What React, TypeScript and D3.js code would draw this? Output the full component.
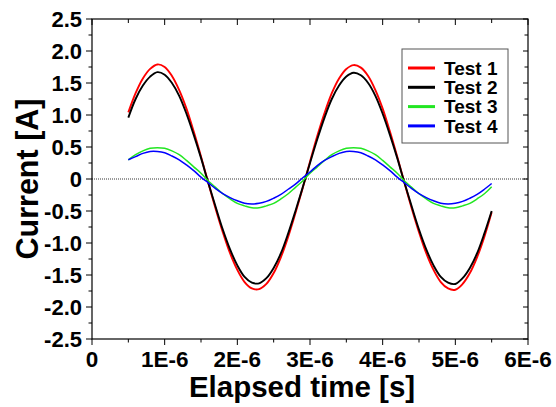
import React from 'react';
import * as d3 from 'd3';

// elapsed time in microseconds (axis shows seconds as 1E-6 ...)
const times = [
  0.5, 0.6, 0.7, 0.8, 0.9, 1.0, 1.1, 1.2, 1.3, 1.4, 1.5, 1.6, 1.7, 1.8, 1.9, 2.0, 2.1,
  2.2, 2.3, 2.4, 2.5, 2.6, 2.7, 2.8, 2.9, 3.0, 3.1, 3.2, 3.3, 3.4, 3.5, 3.6, 3.7, 3.8,
  3.9, 4.0, 4.1, 4.2, 4.3, 4.4, 4.5, 4.6, 4.7, 4.8, 4.9, 5.0, 5.1, 5.2, 5.3, 5.4, 5.5,
];

const test1 = [
  1.04, 1.34, 1.57, 1.72, 1.79, 1.75, 1.61, 1.39, 1.10, 0.74, 0.35, -0.06, -0.46, -0.83,
  -1.16, -1.42, -1.61, -1.71, -1.72, -1.64, -1.47, -1.22, -0.90, -0.53, -0.14, 0.27, 0.67,
  1.03, 1.34, 1.57, 1.72, 1.78, 1.74, 1.61, 1.39, 1.10, 0.74, 0.35, -0.06, -0.46, -0.83,
  -1.16, -1.42, -1.61, -1.71, -1.73, -1.64, -1.47, -1.22, -0.90, -0.52,
];
const test2 = [
  0.96, 1.25, 1.46, 1.60, 1.67, 1.63, 1.50, 1.30, 1.02, 0.69, 0.33, -0.06, -0.43, -0.79,
  -1.10, -1.35, -1.53, -1.62, -1.63, -1.55, -1.39, -1.16, -0.85, -0.50, -0.13, 0.25, 0.62,
  0.96, 1.25, 1.46, 1.60, 1.66, 1.62, 1.50, 1.30, 1.02, 0.69, 0.33, -0.06, -0.43, -0.79,
  -1.10, -1.35, -1.53, -1.62, -1.64, -1.55, -1.39, -1.16, -0.85, -0.50,
];
const test3 = [
  0.30, 0.38, 0.44, 0.48, 0.49, 0.48, 0.44, 0.38, 0.29, 0.19, 0.09, -0.03, -0.13, -0.23,
  -0.31, -0.38, -0.42, -0.45, -0.45, -0.42, -0.38, -0.31, -0.23, -0.13, -0.03, 0.09, 0.19,
  0.29, 0.38, 0.44, 0.48, 0.49, 0.48, 0.44, 0.38, 0.29, 0.19, 0.09, -0.03, -0.13, -0.23,
  -0.31, -0.38, -0.42, -0.45, -0.45, -0.42, -0.38, -0.31, -0.23, -0.12,
];
const test4 = [
  0.30, 0.35, 0.40, 0.43, 0.43, 0.41, 0.36, 0.30, 0.22, 0.13, 0.03, -0.06, -0.15, -0.23,
  -0.29, -0.34, -0.38, -0.39, -0.38, -0.35, -0.30, -0.24, -0.16, -0.08, 0.02, 0.11, 0.21,
  0.29, 0.35, 0.40, 0.43, 0.43, 0.41, 0.36, 0.30, 0.22, 0.13, 0.03, -0.06, -0.15, -0.23,
  -0.29, -0.34, -0.38, -0.39, -0.38, -0.35, -0.30, -0.24, -0.16, -0.07,
];

const seriesNames = ['Test 1', 'Test 2', 'Test 3', 'Test 4'];
const seriesColors = ['#ff0000', '#000000', '#22e622', '#0000ff'];

const xTickValues = [0, 1, 2, 3, 4, 5, 6];
const xTickLabels = ['0', '1E-6', '2E-6', '3E-6', '4E-6', '5E-6', '6E-6'];
const yTickValues = [2.5, 2.0, 1.5, 1.0, 0.5, 0, -0.5, -1.0, -1.5, -2.0, -2.5];
const yTickLabels = ['2.5', '2.0', '1.5', '1.0', '0.5', '0', '-0.5', '-1.0', '-1.5', '-2.0', '-2.5'];

const W = 556, H = 407;
const plot = { left: 92, right: 528, top: 19, bottom: 339 };
const font = '"Liberation Sans", Arial, sans-serif';

export default function App() {
  const x = d3.scaleLinear().domain([0, 6]).range([plot.left, plot.right]);
  const y = d3.scaleLinear().domain([-2.5, 2.5]).range([plot.bottom, plot.top]);

  const xMinor = d3.range(0.5, 6, 1);
  const yMinor = d3.range(-2.25, 2.5, 0.5);

  const series = [test1, test2, test3, test4];
  const line = d3.line<number>()
    .x((_, i) => x(times[i]))
    .y(d => y(d))
    .curve(d3.curveCatmullRom);

  return (
    <svg width={W} height={H} style={{ position: 'absolute', left: 0, top: 0 }} fontFamily={font}>
      <rect width={W} height={H} fill="#fff" />
      {/* zero line */}
      <line x1={plot.left} x2={plot.right} y1={y(0)} y2={y(0)} stroke="#000" strokeWidth={0.8} strokeDasharray="1,1" />

      {series.map((s, i) => (
        <path key={i} d={line(s) || ''} fill="none" stroke={seriesColors[i]}
          strokeWidth={i < 2 ? 1.9 : 1.5} strokeLinejoin="round" />
      ))}

      {/* frame */}
      <rect x={plot.left} y={plot.top} width={plot.right - plot.left} height={plot.bottom - plot.top}
        fill="none" stroke="#000" strokeWidth={1.2} />

      {/* x ticks: outward at bottom, inward at top */}
      {xTickValues.map((v, i) => (
        <g key={'xt' + i}>
          <line x1={x(v)} x2={x(v)} y1={plot.bottom} y2={plot.bottom + 6} stroke="#000" />
          <line x1={x(v)} x2={x(v)} y1={plot.top} y2={plot.top + 6} stroke="#000" />
          <text x={x(v)} y={367} textAnchor="middle" fontSize={22.5} fontWeight="bold">{xTickLabels[i]}</text>
        </g>
      ))}
      {xMinor.map(v => (
        <g key={'xm' + v}>
          <line x1={x(v)} x2={x(v)} y1={plot.bottom} y2={plot.bottom + 3.5} stroke="#000" />
          <line x1={x(v)} x2={x(v)} y1={plot.top} y2={plot.top + 4} stroke="#000" />
        </g>
      ))}

      {/* y ticks: outward on left, inward on right */}
      {yTickValues.map((v, i) => (
        <g key={'yt' + i}>
          <line x1={plot.left - 6} x2={plot.left} y1={y(v)} y2={y(v)} stroke="#000" />
          <line x1={plot.right - 5} x2={plot.right} y1={y(v)} y2={y(v)} stroke="#000" />
          <text x={82} y={y(v)} dy="0.36em" textAnchor="end" fontSize={22} fontWeight="bold">{yTickLabels[i]}</text>
        </g>
      ))}
      {yMinor.map(v => (
        <g key={'ym' + v}>
          <line x1={plot.left - 3.5} x2={plot.left} y1={y(v)} y2={y(v)} stroke="#000" />
          <line x1={plot.right - 3.5} x2={plot.right} y1={y(v)} y2={y(v)} stroke="#000" />
        </g>
      ))}

      {/* axis titles */}
      <text x={302} y={397} textAnchor="middle" fontSize={29.5} fontWeight="bold">Elapsed time [s]</text>
      <text transform={`translate(38,${(plot.top + plot.bottom) / 2}) rotate(-90)`} textAnchor="middle"
        fontSize={30.5} fontWeight="bold">Current [A]</text>

      {/* legend */}
      <rect x={402} y={49} width={106} height={94} fill="#fff" stroke="#555" strokeWidth={1} />
      {seriesNames.map((name, i) => {
        const cy = 68 + i * 19.3;
        return (
          <g key={name}>
            <line x1={408} x2={435} y1={cy} y2={cy} stroke={seriesColors[i]} strokeWidth={3} />
            <text x={444} y={cy} dy="0.36em" fontSize={19} fontWeight="bold">{name}</text>
          </g>
        );
      })}
    </svg>
  );
}
